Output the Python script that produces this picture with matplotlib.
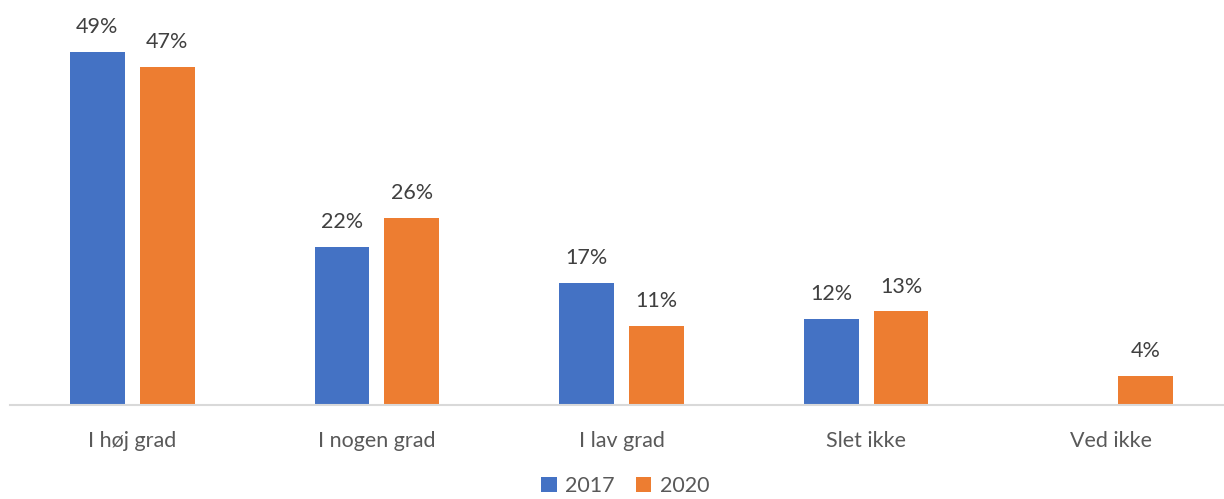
import matplotlib.pyplot as plt
import numpy as np

# data
categories = ["I høj grad", "I nogen grad", "I lav grad", "Slet ikke", "Ved ikke"]
years = ["2017", "2020"]
values_2017 = [49, 22, 17, 12, None]
values_2020 = [47, 26, 11, 13, 4]

colors = ["#4472C4", "#ED7D31"]
text_color = "#404040"

plt.rcParams['font.family'] = ['Lato', 'DejaVu Sans']

W, H = 1224, 499
fig = plt.figure(figsize=(W / 100, H / 100), dpi=100)
# axes placed in pixels: left 10, baseline at y=405, top at y=0
ax = fig.add_axes([10 / W, (H - 405) / H, (W - 10) / W, 405 / H])

x = np.arange(len(categories))
width = 0.224
offset = 0.143

for i, (vals, col, lab) in enumerate(zip([values_2017, values_2020], colors, years)):
    xs = [xi + (i * 2 - 1) * offset for xi, v in zip(x, vals) if v is not None]
    ys = [v for v in vals if v is not None]
    bars = ax.bar(xs, ys, width=width, color=col, label=lab)
    for b, v in zip(bars, ys):
        ax.annotate(f"{v}%", (b.get_x() + b.get_width() / 2, b.get_height()),
                    xytext=(0, 13.5), textcoords="offset points",
                    ha="center", va="baseline", fontsize=15.5, color=text_color)

ax.set_xlim(-0.5, 4.5 - 9 / 244.6)
ax.set_ylim(0, 405 / 7.2)
ax.set_xticks(x)
ax.set_xticklabels(categories, fontsize=15.5, color="#595959")
ax.tick_params(axis="x", length=0, pad=18.5)
ax.set_yticks([])
for s in ["top", "right", "left"]:
    ax.spines[s].set_visible(False)
ax.spines["bottom"].set_color("#D9D9D9")
ax.spines["bottom"].set_linewidth(1.5)

handles, labels = ax.get_legend_handles_labels()
fig.legend(handles, labels, loc="upper center", bbox_to_anchor=(0.511, 0.068),
           ncol=2, frameon=False, fontsize=15.5, handlelength=0.7, handleheight=0.7,
           handletextpad=0.4, columnspacing=1.0, borderpad=0,
           labelcolor="#595959")

fig.savefig("out.png", dpi=100)
